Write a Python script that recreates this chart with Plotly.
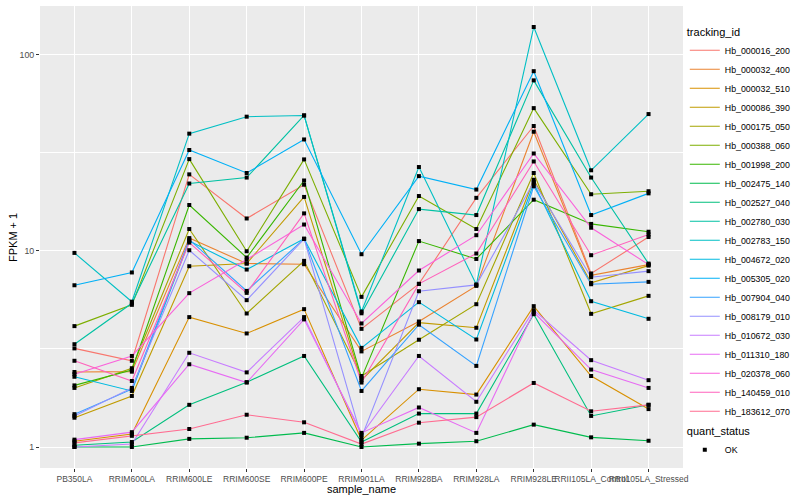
import plotly.graph_objects as go

samples = ["PB350LA", "RRIM600LA", "RRIM600LE", "RRIM600SE", "RRIM600PE", "RRIM901LA",
           "RRIM928BA", "RRIM928LA", "RRIM928LE", "RRII105LA_Control", "RRII105LA_Stressed"]

tracking_ids = ["Hb_000016_200", "Hb_000032_400", "Hb_000032_510", "Hb_000086_390", "Hb_000175_050",
                "Hb_000388_060", "Hb_001998_200", "Hb_002475_140", "Hb_002527_040", "Hb_002780_030",
                "Hb_002783_150", "Hb_004672_020", "Hb_005305_020", "Hb_007904_040", "Hb_008179_010",
                "Hb_010672_030", "Hb_011310_180", "Hb_020378_060", "Hb_140459_010", "Hb_183612_070"]

colors = ["#F8766D", "#EA8331", "#D89000", "#C09B00", "#A3A500", "#7CAE00", "#39B600", "#00BB4E",
          "#00BF7D", "#00C1A3", "#00BFC4", "#00BAE0", "#00B0F6", "#35A2FF", "#9590FF", "#C77CFF",
          "#E76BF3", "#FA62DB", "#FF62BC", "#FF6C91"]

# FPKM + 1 per sample (order of `samples`)
hb_000016_200 = [3.18, 2.75, 24.5, 14.6, 21.7, 4.0, 6.78, 18.6, 43.2, 7.66, 11.75]
hb_000032_400 = [2.41, 2.42, 11.6, 8.61, 8.54, 3.07, 4.36, 6.62, 40.4, 7.5, 8.5]
hb_000032_510 = [1.07, 1.165, 4.59, 3.79, 5.04, 1.085, 1.97, 1.85, 5.22, 2.30, 1.56]
hb_000086_390 = [1.41, 1.82, 8.34, 8.61, 18.8, 2.19, 4.3, 4.05, 23.0, 6.86, 8.4]
hb_000175_050 = [2.0, 2.52, 12.9, 4.79, 8.88, 2.30, 3.52, 5.34, 24.9, 4.77, 5.89]
hb_000388_060 = [4.13, 5.3, 29.3, 9.94, 29.2, 5.82, 19.0, 12.9, 53.3, 19.4, 20.1]
hb_001998_200 = [2.06, 2.47, 17.1, 9.23, 22.8, 2.25, 11.2, 9.08, 18.2, 13.7, 12.5]
hb_002475_140 = [1.0, 1.0, 1.10, 1.115, 1.18, 1.0, 1.04, 1.07, 1.30, 1.12, 1.076]
hb_002527_040 = [1.02, 1.06, 1.64, 2.14, 2.91, 1.06, 1.48, 1.48, 4.75, 1.44, 1.64]
hb_002780_030 = [3.34, 5.4, 22.0, 23.6, 48.9, 4.8, 16.3, 15.2, 73.8, 23.6, 8.6]
hb_002783_150 = [9.75, 5.5, 39.5, 48.2, 48.9, 4.9, 26.7, 6.73, 138.0, 25.7, 49.7]
hb_004672_020 = [2.28, 1.93, 11.2, 8.02, 11.5, 3.2, 5.47, 3.53, 22.0, 5.53, 4.50]
hb_005305_020 = [6.67, 7.75, 32.6, 24.9, 36.9, 9.6, 24.0, 20.5, 82.2, 15.2, 19.6]
hb_007904_040 = [1.47, 1.97, 11.4, 6.24, 11.5, 1.93, 4.2, 2.59, 21.3, 6.75, 6.94]
hb_008179_010 = [1.44, 2.0, 10.06, 5.60, 11.5, 1.12, 6.22, 6.7, 22.4, 7.33, 7.87]
hb_010672_030 = [1.0, 1.035, 3.02, 2.40, 4.59, 1.155, 2.91, 1.70, 4.98, 2.77, 2.19]
hb_011310_180 = [1.09, 1.19, 2.64, 2.13, 4.47, 1.18, 1.59, 1.18, 4.86, 2.48, 2.0]
hb_020378_060 = [2.35, 2.91, 6.08, 9.02, 13.6, 4.26, 7.93, 12.0, 31.3, 13.1, 8.5]
hb_140459_010 = [2.75, 2.17, 11.0, 6.10, 15.5, 2.13, 6.78, 9.68, 28.5, 9.49, 12.1]
hb_183612_070 = [1.05, 1.14, 1.235, 1.46, 1.336, 1.035, 1.33, 1.42, 2.12, 1.52, 1.64]

series = [hb_000016_200, hb_000032_400, hb_000032_510, hb_000086_390, hb_000175_050,
          hb_000388_060, hb_001998_200, hb_002475_140, hb_002527_040, hb_002780_030,
          hb_002783_150, hb_004672_020, hb_005305_020, hb_007904_040, hb_008179_010,
          hb_010672_030, hb_011310_180, hb_020378_060, hb_140459_010, hb_183612_070]

quant_status = "OK"

fig = go.Figure()
for name, vals, col in zip(tracking_ids, series, colors):
    fig.add_trace(go.Scatter(x=samples, y=vals, mode="lines", name=name,
                             line=dict(color=col, width=1.1), legend="legend",
                             hoverinfo="skip"))

px, py = [], []
for vals in series:
    px.extend(samples)
    py.extend(vals)
fig.add_trace(go.Scatter(x=px, y=py, mode="markers", name=quant_status, legend="legend2",
                         marker=dict(symbol="square", size=4, color="black"),
                         hoverinfo="skip"))

FONT = "Liberation Sans, Arial, sans-serif"
fig.update_layout(
    width=800, height=500,
    margin=dict(l=40, r=116.5, t=5.5, b=32, autoexpand=False),
    paper_bgcolor="white", plot_bgcolor="#EBEBEB",
    font=dict(family=FONT, color="black"),
    xaxis=dict(type="category", categoryorder="array", categoryarray=samples,
               range=[-0.6, 10.6], showgrid=True, gridcolor="white", gridwidth=1.1,
               zeroline=False, showline=False, ticks="outside", ticklen=3,
               tickcolor="#333333", tickwidth=1, tickangle=0,
               tickfont=dict(size=8.5, color="#4D4D4D", family=FONT),
               automargin=False),
    yaxis=dict(type="log", range=[-0.107, 2.247], tickmode="array",
               tickvals=[1, 10, 100], ticktext=["1", "10", "100"],
               showgrid=True, gridcolor="white", gridwidth=1.1,
               minor=dict(tickmode="array", tickvals=[3.1623, 31.623], showgrid=True,
                          gridcolor="white", gridwidth=0.55, ticks=""),
               zeroline=False, showline=False, ticks="outside", ticklen=3,
               tickcolor="#333333", tickwidth=1,
               tickfont=dict(size=8.8, color="#4D4D4D", family=FONT),
               automargin=False),
    annotations=[
        dict(text="sample_name", xref="paper", yref="paper", x=0.5, y=-0.046,
             xanchor="center", yanchor="middle", showarrow=False,
             font=dict(size=11, color="black", family=FONT)),
        dict(text="FPKM + 1", xref="paper", yref="paper", x=-0.042, y=0.5,
             xanchor="center", yanchor="middle", textangle=-90, showarrow=False,
             font=dict(size=11, color="black", family=FONT)),
    ],
    legend=dict(title=dict(text="tracking_id", font=dict(size=11, family=FONT)),
                font=dict(size=8.8, family=FONT), xref="container", yref="container",
                x=0.856, xanchor="left", y=0.957, yanchor="top", bgcolor="white",
                itemwidth=30, tracegroupgap=0, maxheight=440),
    legend2=dict(title=dict(text="quant_status", font=dict(size=11, family=FONT)),
                 font=dict(size=8.8, family=FONT), xref="container", yref="container",
                 x=0.856, xanchor="left", y=0.158, yanchor="top", bgcolor="white",
                 itemwidth=30),
)

fig.write_html("out.html", config={"displayModeBar": False},
               post_script="document.body.style.margin='0px';")
